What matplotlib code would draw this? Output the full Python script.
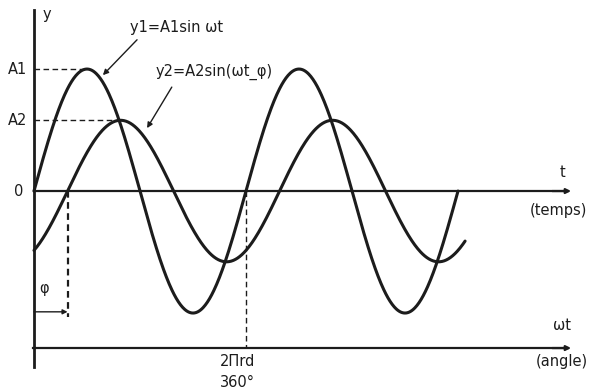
import numpy as np
import matplotlib.pyplot as plt

# values (angle in degrees, amplitude relative to A1)
A1 = 1.0
A2 = 0.58
phi = 57          # phase shift of y2, degrees
y1_span = (0, 720)
y2_span = (0, 732)
period = 360

plt.rcParams['font.family'] = ['DejaVu Sans']
ink = '#1c1c1c'

fig = plt.figure(figsize=(5.91, 3.91), dpi=100)
ax = fig.add_axes([0, 0, 1, 1])
ax.set_xlim(-57.7, 945.8)
ax.set_ylim(-1.639, 1.566)
ax.axis('off')

# curves
wt1 = np.linspace(*y1_span, 600)
wt2 = np.linspace(*y2_span, 600)
ax.plot(wt1, A1 * np.sin(np.radians(wt1)), color=ink, lw=2.2, solid_capstyle='round')
ax.plot(wt2, A2 * np.sin(np.radians(wt2 - phi)), color=ink, lw=2.2, solid_capstyle='round')

# axes
ax.plot([0, 0], [1.48, -1.443], color=ink, lw=2)
ax.plot([0, 905], [0, 0], color=ink, lw=1.6)
ax.plot([-2, 905], [-1.287, -1.287], color=ink, lw=1.6)
for yy in (0, -1.287):
    ax.annotate('', xy=(912, yy), xytext=(880, yy),
                arrowprops=dict(arrowstyle='-|>', color=ink, lw=1.6,
                                mutation_scale=7, shrinkA=0, shrinkB=0))

# dashed guides
ax.plot([0, 90], [A1, A1], color=ink, lw=1, ls=(0, (4, 2.5)))
ax.plot([0, 90 + phi], [A2, A2], color=ink, lw=1, ls=(0, (4, 2.5)))
ax.plot([phi, phi], [0, -1.033], color=ink, lw=1.6, ls=(0, (3, 2)))
ax.plot([period, period], [0, -1.287], color=ink, lw=1, ls=(0, (4, 2.5)))
ax.annotate('', xy=(phi, -0.99), xytext=(0, -0.99),
            arrowprops=dict(arrowstyle='-|>', color=ink, lw=1,
                            mutation_scale=7, shrinkA=0, shrinkB=0))

# labels
fs = 10.5
ax.text(15, 1.45, 'y', fontsize=fs, color=ink, ha='left', va='center')
ax.text(-12, A1, 'A1', fontsize=fs, color=ink, ha='right', va='center')
ax.text(-12, A2, 'A2', fontsize=fs, color=ink, ha='right', va='center')
ax.text(-18, 0, '0', fontsize=fs, color=ink, ha='right', va='center')
ax.text(163, 1.344, 'y1=A1sin ωt', fontsize=fs, color=ink, ha='left', va='center')
ax.text(207, 0.975, 'y2=A2sin(ωt_φ)', fontsize=fs, color=ink, ha='left', va='center')
ax.annotate('', xy=(117, 0.95), xytext=(175, 1.24),
            arrowprops=dict(arrowstyle='-|>', color=ink, lw=1,
                            mutation_scale=8, shrinkA=0, shrinkB=0))
ax.annotate('', xy=(192, 0.516), xytext=(234, 0.852),
            arrowprops=dict(arrowstyle='-|>', color=ink, lw=1,
                            mutation_scale=8, shrinkA=0, shrinkB=0))
ax.text(17, -0.795, 'φ', fontsize=fs, color=ink, ha='center', va='center')
ax.text(898, 0.148, 't', fontsize=fs, color=ink, ha='center', va='center')
ax.text(940, -0.156, '(temps)', fontsize=fs, color=ink, ha='right', va='center')
ax.text(897, -1.10, 'ωt', fontsize=fs, color=ink, ha='center', va='center')
ax.text(940, -1.40, '(angle)', fontsize=fs, color=ink, ha='right', va='center')
ax.text(345, -1.40, '2Πrd', fontsize=fs, color=ink, ha='center', va='center')
ax.text(345, -1.566, '360°', fontsize=fs, color=ink, ha='center', va='center')

fig.savefig('out.png', dpi=100, facecolor='white')
